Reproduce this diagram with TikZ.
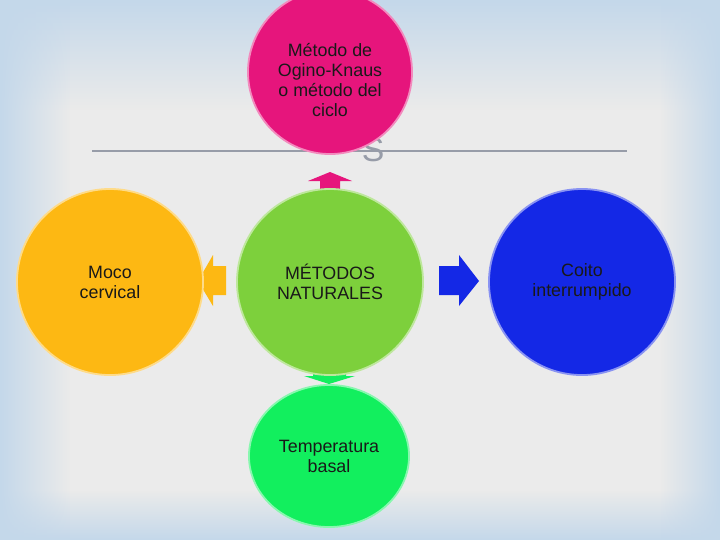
\documentclass[tikz,border=0pt]{standalone}
\usepackage{fontspec}
\setmainfont{Liberation Sans}
\usetikzlibrary{arrows.meta, positioning, calc, fadings, shapes.geometric}
\definecolor{bgfill}{HTML}{EBEBEB}
\definecolor{bgedge}{HTML}{C4D8EA}
\definecolor{ogino}{HTML}{E6157C}
\definecolor{natur}{HTML}{7DD03C}
\definecolor{moco}{HTML}{FDB813}
\definecolor{coito}{HTML}{1428E6}
\definecolor{tempb}{HTML}{12EF5E}
\definecolor{rule}{HTML}{979CA8}

\tikzset{
  topic/.style={circle, fill=#1, draw=#1!50!white, line width=1.3pt,
                align=center, font=\fontsize{12.7}{14.2}\selectfont, text=black!90},
  topictext/.style={align=center, font=\fontsize{12.7}{14.2}\selectfont, text=black!90}
}

\begin{document}
\begin{tikzpicture}[x=0.025cm, y=-0.025cm]
        \useasboundingbox (0,0) rectangle (720,540);
        % background
        \fill[bgfill] (0,0) rectangle (720,540);
        \fill[bgedge, path fading=south] (0,0) rectangle (720,110);
        \fill[bgedge, path fading=north] (0,490) rectangle (720,540);
        \fill[bgedge, path fading=east] (0,0) rectangle (70,540);
        \fill[bgedge, path fading=west] (660,0) rectangle (720,540);
        \draw[rule, line width=1.4pt] (92,151) -- (627,151);
        \node[text=rule, font=\fontsize{24}{24}\selectfont] (ghost) at (373,150) {S};

        % arrows
        \coordinate (upTip) at (330,172);
        \fill[ogino] (upTip) -- ++(22,9) -- ++(-12,0) -- ++(0,12) -- ++(-20,0)
            -- ++(0,-12) -- ++(-12,0) -- cycle;
        \coordinate (leftTip) at (198,281);
        \fill[moco] (leftTip) -- ++(15,-26) -- ++(0,11) -- ++(13,0) -- ++(0,29)
            -- ++(-13,0) -- ++(0,11) -- cycle;
        \coordinate (rightTip) at (479,281);
        \fill[coito] (rightTip) -- ++(-20,-26) -- ++(0,11) -- ++(-20,0) -- ++(0,29)
            -- ++(20,0) -- ++(0,11) -- cycle;
        \coordinate (downTip) at (329,384);
        \fill[tempb] (downTip) -- ++(-25,-8) -- ++(9,0) -- ++(0,-7) -- ++(33,0)
            -- ++(0,7) -- ++(9,0) -- cycle;

        % circles
        \node[topic=ogino, minimum size=4.1cm] (metodo) at (330,72) {};
        \node[topictext] (metodoTxt) at ([yshift=-6pt]metodo.center)
            {Método de\\Ogino-Knaus\\o método del\\ciclo};
        \node[topic=natur, minimum size=4.65cm] (centro) at (330,282)
            {MÉTODOS\\NATURALES};
        \node[topic=moco, minimum size=4.65cm] (moco) at (110,282)
            {Moco\\cervical};
        \node[topic=coito, minimum size=4.65cm] (coito) at (582,282)
            {Coito\\interrumpido};
        \node[topic=tempb, ellipse, minimum width=4cm, minimum height=3.55cm] (temp) at (329,456)
            {Temperatura\\basal};
    \end{tikzpicture}
\end{document}
